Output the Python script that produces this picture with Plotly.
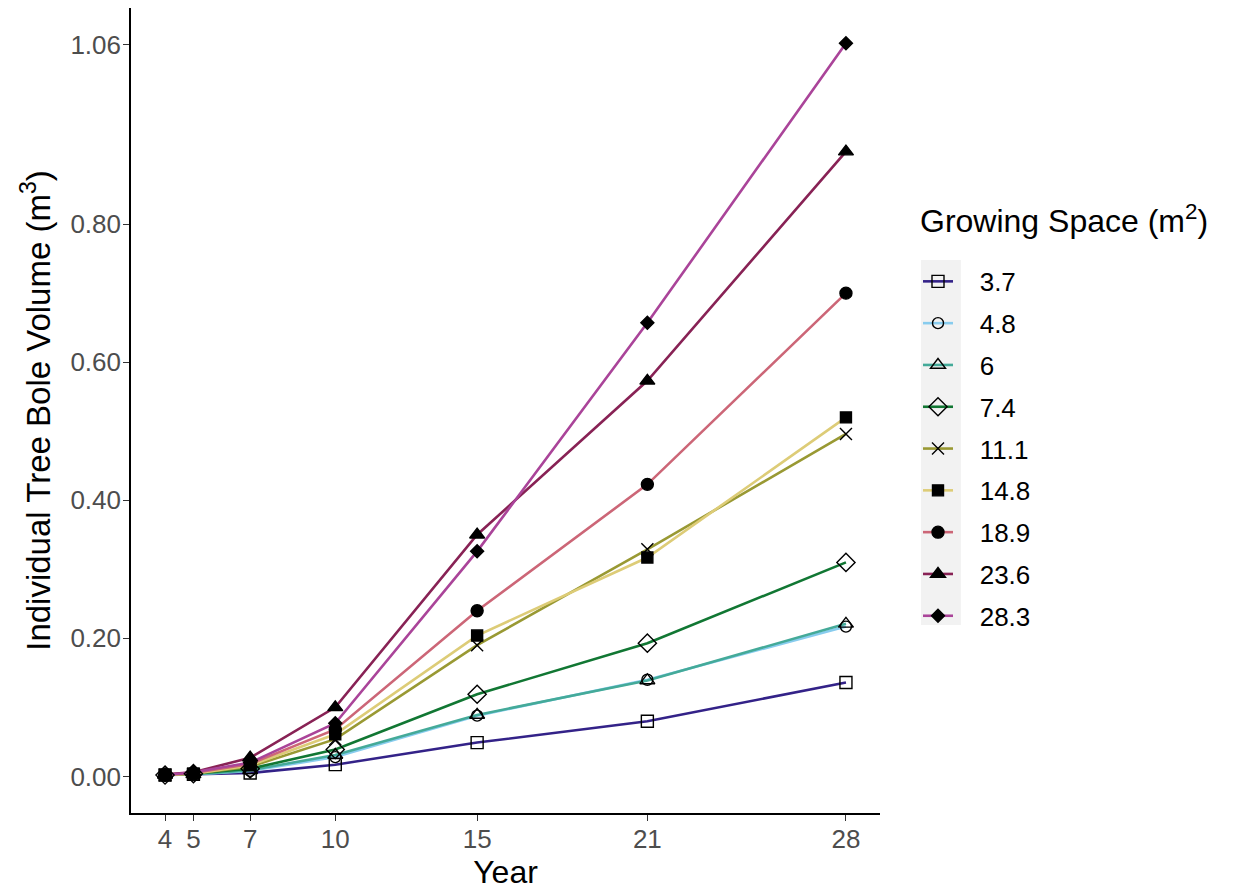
import plotly.graph_objects as go

years = [4, 5, 7, 10, 15, 21, 28]
spaces = ["3.7", "4.8", "6", "7.4", "11.1", "14.8", "18.9", "23.6", "28.3"]

vol_3_7 = [0.002, 0.003, 0.005, 0.017, 0.049, 0.080, 0.136]
vol_4_8 = [0.002, 0.003, 0.008, 0.028, 0.088, 0.140, 0.217]
vol_6 = [0.002, 0.003, 0.009, 0.031, 0.089, 0.139, 0.221]
vol_7_4 = [0.002, 0.004, 0.011, 0.039, 0.119, 0.193, 0.310]
vol_11_1 = [0.002, 0.004, 0.014, 0.054, 0.190, 0.329, 0.496]
vol_14_8 = [0.002, 0.004, 0.016, 0.061, 0.204, 0.317, 0.520]
vol_18_9 = [0.002, 0.005, 0.018, 0.068, 0.240, 0.423, 0.700]
vol_23_6 = [0.003, 0.006, 0.027, 0.100, 0.350, 0.573, 0.905]
vol_28_3 = [0.002, 0.006, 0.020, 0.077, 0.326, 0.657, 1.062]

series = [vol_3_7, vol_4_8, vol_6, vol_7_4, vol_11_1, vol_14_8, vol_18_9, vol_23_6, vol_28_3]
colors = ["#332288", "#88CCEE", "#44AA99", "#117733", "#999933",
          "#DDCC77", "#CC6677", "#882255", "#AA4499"]
symbols = ["square-open", "circle-open", "triangle-up-open", "diamond-open", "x-thin-open",
           "square", "circle", "triangle-up", "diamond"]
sizes = [12, 11, 13, 14, 12, 11, 12, 13, 10]

ytick_vals = [0.0, 0.2, 0.4, 0.6, 0.8, 1.06]
ytick_text = ["0.00", "0.20", "0.40", "0.60", "0.80", "1.06"]

fig = go.Figure()

# lines first
for name, vals, c in zip(spaces, series, colors):
    fig.add_trace(go.Scatter(x=years, y=vals, mode="lines", line=dict(color=c, width=2.6),
                             showlegend=False, hoverinfo="skip"))
# markers on top
for name, vals, s, sz in zip(spaces, series, symbols, sizes):
    fig.add_trace(go.Scatter(x=years, y=vals, mode="markers",
                             marker=dict(symbol=s, size=sz, color="black",
                                         line=dict(color="black", width=1.4)),
                             showlegend=False))
# legend entries
for i, (name, c, s, sz) in enumerate(zip(spaces, colors, symbols, sizes)):
    fig.add_trace(go.Scatter(x=[None], y=[None], mode="lines+markers",
                             name="\u00a0\u00a0\u00a0" + name,
                             legendgroup=f"g{i}",
                             line=dict(color=c, width=2.6),
                             marker=dict(symbol=s, size=sz, color="black",
                                         line=dict(color="black", width=1.4))))

fig.add_shape(type="rect", xref="paper", yref="paper",
              x0=1.0547, x1=1.108, y0=0.2335, y1=0.687,
              fillcolor="#F2F2F2", line=dict(width=0), layer="below")

font = "Liberation Sans, Arial, Helvetica, sans-serif"
fig.add_annotation(xref="paper", yref="paper", x=1.0507, y=0.738, xanchor="left",
                   yanchor="middle", showarrow=False,
                   text="Growing Space (m<sup>2</sup>)", font=dict(size=32, family=font, color="black"))

fig.update_layout(
    width=1235, height=890,
    margin=dict(l=131, r=355, t=8, b=77),
    plot_bgcolor="white", paper_bgcolor="white",
    font=dict(family=font, color="black"),
    xaxis=dict(range=[2.8, 29.2], tickvals=years, ticktext=[str(y) for y in years],
               showgrid=False, zeroline=False, showline=True, linecolor="black", linewidth=1.6,
               ticks="outside", ticklen=6, tickwidth=1.4, tickcolor="#333333",
               ticklabelstandoff=-4,
               tickfont=dict(size=26, color="#4D4D4D", family=font),
               title=dict(text="Year", font=dict(size=32, family=font), standoff=2)),
    yaxis=dict(range=[-0.053, 1.113], tickvals=ytick_vals, ticktext=ytick_text,
               showgrid=False, zeroline=False, showline=True, linecolor="black", linewidth=1.6,
               ticks="outside", ticklen=6, tickwidth=1.4, tickcolor="#333333",
               ticklabelstandoff=-3,
               tickfont=dict(size=26, color="#4D4D4D", family=font),
               title=dict(text="Individual Tree Bole Volume (m<sup>3</sup>)",
                          font=dict(size=33, family=font), standoff=10)),
    legend=dict(x=(918 - 131) / 749, xanchor="left", y=0.6895, yanchor="top",
                bgcolor="rgba(0,0,0,0)", traceorder="grouped", tracegroupgap=5,
                font=dict(size=26, family=font), itemwidth=30),
)

fig.write_html("out.html")
